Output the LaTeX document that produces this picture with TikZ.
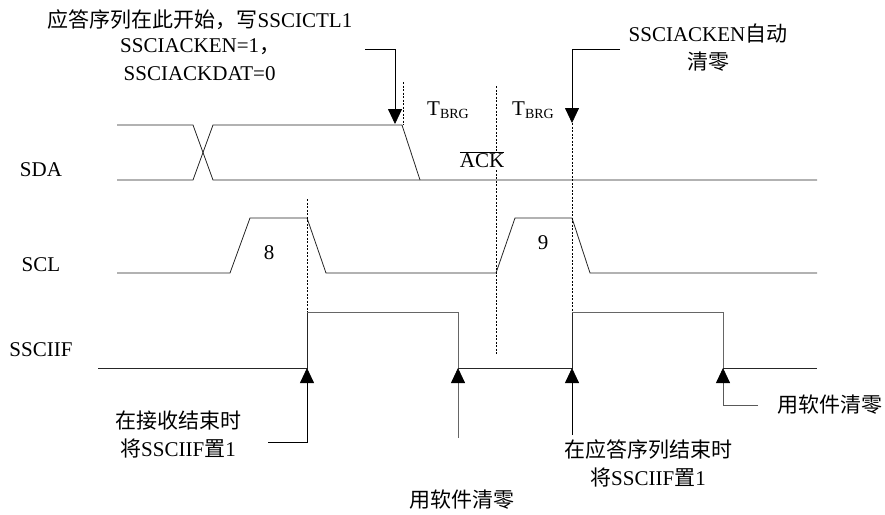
\documentclass[tikz,border=0pt]{standalone}
\usepackage{fontspec}
\setmainfont{Liberation Serif}
\newfontfamily\cjk{Noto Sans CJK SC}
\usetikzlibrary{arrows.meta}
\tikzset{
  wave/.style={line width=0.8pt, black!85},
  gwave/.style={line width=0.8pt, black!60},
  guide/.style={line width=0.6pt, dash pattern=on 2pt off 1.5pt},
  callout/.style={line width=0.8pt, -{Triangle[width=14pt,length=15pt,color=black,fill=black]}},
  lbl/.style={inner sep=0pt, font=\fontsize{21}{28}\selectfont}
}
\newcommand{\tbrg}{T\raisebox{-0.3ex}{\fontsize{14}{14}\selectfont BRG}}
\begin{document}
\begin{tikzpicture}[x=1pt,y=-1pt]
\useasboundingbox (0,0) rectangle (885,514);
% signal names
\node[lbl] (sda) at (41,170) {SDA};
\node[lbl] (scl) at (41,265) {SCL};
\node[lbl] (iff) at (41,350) {SSCIIF};
% SDA
\draw[wave] (117,125)--(193,125)--(213,180)--(817,180);
\draw[wave] (117,180)--(193,180)--(213,125)--(402,125)--(420,180);
% SCL
\draw[wave] (117,273)--(230,273)--(250,218)--(307,218)--(326,273)--(496,273)--(515,218)--(572,218)--(590,273)--(817,273);
% SSCIIF
\draw[wave] (98,368)--(307,368)--(307,312);
\draw[gwave] (307,312)--(458,312)--(458,368);
\draw[wave] (458,368)--(572,368)--(572,312);
\draw[gwave] (572,312)--(723,312)--(723,368);
\draw[wave] (723,368)--(817,368);
% guides
\draw[guide] (403,82)--(403,125);
\draw[guide] (496,86)--(496,355);
\draw[guide] (572,123)--(572,312);
\draw[guide] (307,199)--(307,312);
% bit numbers and labels
\node[lbl] (b8) at (269,253) {8};
\node[lbl] (b9) at (543,243) {9};
\node[lbl] (t1) at (448,110) {\tbrg};
\node[lbl] (t2) at (533,110) {\tbrg};
\node[lbl, fill=white, inner sep=1pt] (ack) at (482,160) {$\overline{\mbox{ACK}}$};
% top callouts
\node[lbl] (top1) at (200,20) {{\cjk 应答序列在此开始，写}SSCICTL1};
\node[lbl, anchor=west, align=left] (top2) at (120,60) {SSCIACKEN=1{\cjk ，}\\\,SSCIACKDAT=0};
\coordinate (a1s) at (365,49);
\coordinate (a1e) at (395,124);
\draw[callout] (a1s) -| (a1e);
\node[lbl, align=center] (top3) at (708,48) {SSCIACKEN{\cjk 自动}\\{\cjk 清零}};
\coordinate (a2s) at (620,49);
\coordinate (a2e) at (572,123);
\draw[callout] (a2s) -| (a2e);
% bottom callouts
\coordinate (b1s) at (268,442);
\coordinate (b1e) at (307,368);
\draw[callout] (b1s) -| (b1e);
\node[lbl, align=center] (bl1) at (178,434) {{\cjk 在接收结束时}\\{\cjk 将}SSCIIF{\cjk 置}1};
\coordinate (b2s) at (458,438);
\coordinate (b2e) at (458,368);
\draw[callout, black!60] (b2s) -- (b2e);
\node[lbl] (bl2) at (462,500) {\cjk 用软件清零};
\coordinate (b3s) at (572,435);
\coordinate (b3e) at (572,368);
\draw[callout] (b3s) -- (b3e);
\node[lbl, align=center] (bl3) at (648,463) {{\cjk 在应答序列结束时}\\{\cjk 将}SSCIIF{\cjk 置}1};
\coordinate (b4s) at (758,405);
\coordinate (b4e) at (723,368);
\draw[callout, black!65] (b4s) -| (b4e);
\node[lbl] (bl4) at (830,405) {\cjk 用软件清零};
\end{tikzpicture}
\end{document}
